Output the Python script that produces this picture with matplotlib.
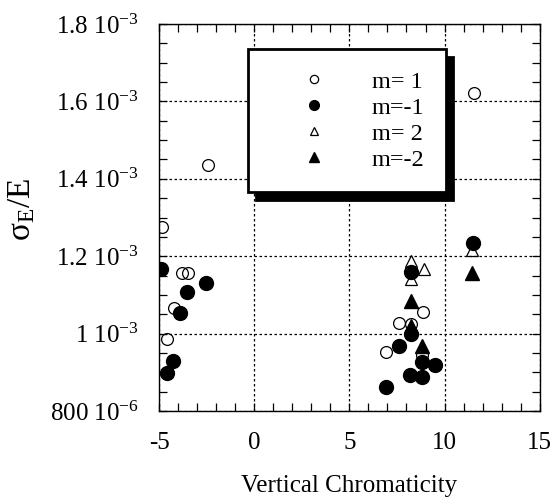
import numpy as np
import matplotlib
matplotlib.use("Agg")
import matplotlib.pyplot as plt
from matplotlib.ticker import MultipleLocator, FixedLocator

plt.rcParams['font.family'] = ['Liberation Serif', 'DejaVu Serif']
plt.rcParams['mathtext.fontset'] = 'custom'
plt.rcParams['mathtext.rm'] = 'Liberation Serif'
plt.rcParams['mathtext.it'] = 'Liberation Serif:italic'
plt.rcParams['axes.unicode_minus'] = False

# values (sigma_E/E in units of 1e-3)
m1_x = [-2.45, -4.88, -3.83, -3.51, -4.23, -4.59, 8.87, 7.58, 8.25, 6.93, 8.84, 11.55]
m1_y = [1.436, 1.275, 1.157, 1.157, 1.066, 0.986, 1.057, 1.027, 1.025, 0.953, 0.945, 1.621]

mm1_x = [-4.92, -2.54, -3.56, -3.92, -4.27, -4.62, 8.25, 8.25, 7.58, 8.84, 9.49, 8.2, 8.84, 6.93, 11.48]
mm1_y = [1.166, 1.13, 1.108, 1.053, 0.93, 0.897, 1.16, 1.0, 0.968, 0.927, 0.918, 0.893, 0.889, 0.863, 1.233]

m2_x = [8.25, 8.9, 8.25, 8.25, 11.46]
m2_y = [1.188, 1.166, 1.14, 1.022, 1.216]

mm2_x = [8.25, 8.25, 8.84, 11.43]
mm2_y = [1.085, 1.016, 0.968, 1.156]

y_ticks = [0.8e-3, 1.0e-3, 1.2e-3, 1.4e-3, 1.6e-3, 1.8e-3]
y_labels = ['800 10$^{\\mathrm{-6}}$', '1 10$^{\\mathrm{-3}}$', '1.2 10$^{\\mathrm{-3}}$',
            '1.4 10$^{\\mathrm{-3}}$', '1.6 10$^{\\mathrm{-3}}$', '1.8 10$^{\\mathrm{-3}}$']

fig = plt.figure(figsize=(5.53, 5.04), dpi=100)
ax = fig.add_axes([0.2884, 0.1845, 0.6872, 0.7679])

s = 1e-3
ax.plot(m1_x, np.array(m1_y) * s, 'o', ms=8.5, mfc='none', mec='black', mew=0.9, label='m= 1')
ax.plot(m2_x, np.array(m2_y) * s, '^', ms=9, mfc='none', mec='black', mew=0.9, label='m= 2')
ax.plot(mm1_x, np.array(mm1_y) * s, 'o', ms=10, color='black', label='m=-1')
ax.plot(mm2_x, np.array(mm2_y) * s, '^', ms=10, color='black', label='m=-2')

ax.set_xlim(-5, 15)
ax.set_ylim(0.8e-3, 1.8e-3)
ax.xaxis.set_major_locator(MultipleLocator(5))
ax.xaxis.set_minor_locator(MultipleLocator(1))
ax.yaxis.set_major_locator(FixedLocator(y_ticks))
ax.yaxis.set_minor_locator(MultipleLocator(0.05e-3))
ax.set_yticklabels(y_labels)

ax.tick_params(which='both', direction='in', top=True, right=True, labelsize=18, pad=15)
ax.tick_params(which='major', length=6, width=0.9)
ax.tick_params(which='minor', length=6, width=0.9)
ax.grid(True, which='major', linestyle=(0, (2, 2)), color='black', linewidth=0.9)
for sp in ax.spines.values():
    sp.set_linewidth(1.0)

ax.set_xlabel('Vertical Chromaticity', fontsize=18)
ax.xaxis.set_label_coords(0.5, -0.165)
ax.set_ylabel('$\\mathrm{σ_E/E}$', fontsize=24)
ax.yaxis.set_label_coords(-0.322, 0.52)

handles, labels = ax.get_legend_handles_labels()
order = [0, 2, 1, 3]
leg = ax.legend([handles[i] for i in order], [labels[i] for i in order],
                loc='upper left', bbox_to_anchor=(0.233, 0.935), borderaxespad=0,
                fontsize=17.5, fancybox=False, framealpha=1, edgecolor='black',
                borderpad=0.88, handlelength=3.7, handletextpad=0.5, labelspacing=0.17,
                markerscale=0.7,
                shadow={'color': 'black', 'alpha': 1, 'ox': 5.5, 'oy': -5.5})
leg.get_frame().set_linewidth(2.0)
leg.set_zorder(5)

fig.savefig('out.png', dpi=100)
